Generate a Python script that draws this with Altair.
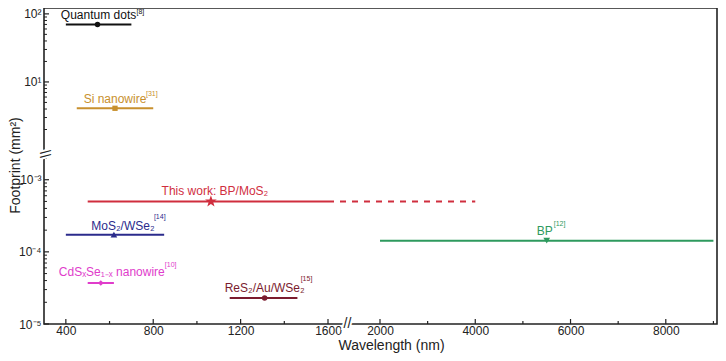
import altair as alt
import pandas as pd

# ---------------- data ----------------
names = ["Quantum dots", "Si nanowire", "This work: BP/MoS₂", "MoS₂/WSe₂",
         "CdSₓSe₁₋ₓ nanowire", "ReS₂/Au/WSe₂", "BP"]
refs = ["[8]", "[31]", "", "[14]", "[10]", "[15]", "[12]"]
x_start = [400, 450, 500, 400, 500, 1150, 2000]
x_end = [700, 800, 1600, 850, 620, 1460, 9000]
x_marker = [545, 625, 1064, 620, 560, 1310, 5500]
footprint = [70, 4.1, 5.0e-4, 1.73e-4, 3.7e-5, 2.3e-5, 1.43e-4]

ext_start = [1600]
ext_end = [4000]
ext_value = [5.0e-4]

x_major = [400, 800, 1200, 1600, 2000, 4000, 6000, 8000]
x_minor = [600, 1000, 1400, 3000, 5000, 7000, 9000]
y_major = [1e-5, 1e-4, 1e-3, 10, 100]
y_minor = [k * 10.0 ** e for e in (-5, -4) for k in range(2, 10)] + [2e-3] + \
          [k * 10.0 ** e for e in (0, 1) for k in range(2, 10)]

x_break = [1750]
y_break = [0.0447]

# ---------------- styles ----------------
colors = ["#111111", "#C8902E", "#D02E3E", "#2B2B8C", "#E03CCB", "#7B1B2E", "#2E9A5E"]
star = ("M0,-1L0.235,-0.324L0.951,-0.309L0.380,0.124L0.588,0.809L0,0.4"
        "L-0.588,0.809L-0.380,0.124L-0.951,-0.309L-0.235,-0.324Z")
shapes = ["circle", "square", star, "triangle-up", "diamond", "circle", "triangle-down"]
sizes = [30, 28, 150, 45, 32, 30, 45]
label_off = [(1, -9), (0, -9), (4, -10), (9, -9), (11, -11), (0, -10), (-2, -10)]
ref_off = [(39, -12), (31, -14), (0, 0), (40, -18), (64, -18), (36, -19), (7, -17)]

W, H = 673, 316
FONT = "Liberation Sans"
INK = "#222222"

xs = alt.Scale(type="linear", domain=[300, 1600, 2000, 9075],
               range=[0, 284, 336, W], nice=False, zero=False)
ys = alt.Scale(type="log", domain=[1e-5, 2e-3, 1, 122],
               range=[H, 150, 142, 0], nice=False)

ylab = ("datum.value < 5e-5 ? '10⁻⁵' : datum.value < 5e-4 ? '10⁻⁴' : "
        "datum.value < 5e-3 ? '10⁻³' : datum.value < 50 ? '10¹' : '10²'")

common_axis = dict(grid=False, ticks=False, domain=False, labelFlush=False, labelOverlap=False,
                   labelFont=FONT, labelFontSize=12, labelColor=INK,
                   titleFont=FONT, titleFontSize=14, titleFontWeight="normal", titleColor=INK)
x_axis = alt.Axis(values=x_major, format="d", title="Wavelength (nm)", labelPadding=1,
                  titleX=347, titleY=25, titleAlign="center", titleBaseline="alphabetic",
                  **common_axis)
y_axis = alt.Axis(values=y_major, labelExpr=ylab, title="Footprint (mm²)", labelPadding=3,
                  titleX=-29, titleY=157, titleAngle=270, titleAlign="center",
                  titleBaseline="middle", **common_axis)


def X(field):
    return alt.X(field, type="quantitative", scale=xs, axis=x_axis)


def Y(field):
    return alt.Y(field, type="quantitative", scale=ys, axis=y_axis)


df = pd.DataFrame({"name": names, "ref": refs, "x0": x_start, "x1": x_end,
                   "xm": x_marker, "y": footprint})
ext = pd.DataFrame({"x0": ext_start, "x1": ext_end, "y": ext_value})

# tick marks drawn inward
xmaj = alt.Chart(pd.DataFrame({"v": x_major})).mark_rule(color=INK, strokeWidth=1.2).encode(
    x=X("v"), y=alt.value(H), y2=alt.value(H - 5))
xmin = alt.Chart(pd.DataFrame({"v": x_minor})).mark_rule(color=INK, strokeWidth=1.2).encode(
    x=X("v"), y=alt.value(H), y2=alt.value(H - 3))
ymaj = alt.Chart(pd.DataFrame({"v": y_major})).mark_rule(color=INK, strokeWidth=1.2).encode(
    y=Y("v"), x=alt.value(0), x2=alt.value(5))
ymin = alt.Chart(pd.DataFrame({"v": y_minor})).mark_rule(color=INK, strokeWidth=1).encode(
    y=Y("v"), x=alt.value(0), x2=alt.value(3))

dashed = alt.Chart(ext).mark_rule(strokeWidth=2, strokeDash=[6, 6], color=colors[2]).encode(
    x=X("x0"), x2="x1", y=Y("y"))

layers = [xmaj, xmin, ymaj, ymin, dashed]
for i, nm in enumerate(names):
    row = df.iloc[[i]]
    layers.append(alt.Chart(row).mark_rule(strokeWidth=2, color=colors[i]).encode(
        x=X("x0"), x2="x1", y=Y("y")))
    layers.append(alt.Chart(row).mark_point(
        filled=True, opacity=1, shape=shapes[i], size=sizes[i], color=colors[i]
    ).encode(x=X("xm"), y=Y("y")))
    dx, dy = label_off[i]
    layers.append(alt.Chart(row).mark_text(
        dx=dx, dy=dy, fontSize=12, font=FONT, color=colors[i], baseline="middle", align="center"
    ).encode(x=X("xm"), y=Y("y"), text="name:N"))
    if refs[i]:
        rdx, rdy = ref_off[i]
        layers.append(alt.Chart(row).mark_text(
            dx=rdx, dy=rdy, fontSize=7, font=FONT, color=colors[i], baseline="middle", align="left"
        ).encode(x=X("xm"), y=Y("y"), text="ref:N"))

layers += [
    alt.Chart(pd.DataFrame({"v": x_break})).mark_text(
        text="//", fontSize=14, font=FONT, fill="white", stroke="white", strokeWidth=4
    ).encode(x=X("v"), y=alt.value(H)),
    alt.Chart(pd.DataFrame({"v": x_break})).mark_text(
        text="//", fontSize=14, font=FONT, color=INK
    ).encode(x=X("v"), y=alt.value(H)),
    alt.Chart(pd.DataFrame({"v": y_break})).mark_text(
        text="\\\\", fontSize=14, font=FONT, angle=90, fill="white", stroke="white", strokeWidth=4
    ).encode(y=Y("v"), x=alt.value(0)),
    alt.Chart(pd.DataFrame({"v": y_break})).mark_text(
        text="\\\\", fontSize=14, font=FONT, angle=90, color=INK
    ).encode(y=Y("v"), x=alt.value(0)),
]

chart = alt.layer(*layers).properties(
    width=W, height=H,
    autosize=alt.AutoSizeParams(type="none"),
    padding={"left": 36, "top": 0, "right": 1, "bottom": 29},
).configure_view(
    stroke=INK, strokeWidth=1.6
)

chart.save("out.html", embed_options={"renderer": "svg", "actions": False})
